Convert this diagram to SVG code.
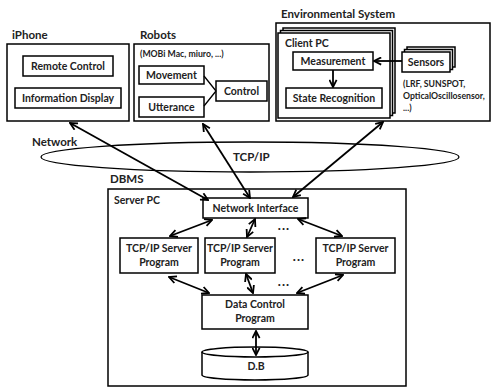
<svg xmlns="http://www.w3.org/2000/svg" width="492" height="389" viewBox="0 0 492 389">
<defs>
<marker id="ah" viewBox="0 0 10 10" refX="9" refY="5" markerWidth="9" markerHeight="9" markerUnits="userSpaceOnUse" orient="auto-start-reverse">
<path d="M1,1 L9,5 L1,9" fill="none" stroke="#000" stroke-width="2"/>
</marker>
</defs>
<style>
.b{fill:#fff;stroke:#000;stroke-width:1.5}
.t{font-family:Lato,"Liberation Sans",sans-serif;font-weight:bold;font-size:10.5px;fill:#222}
.l{font-family:Lato,"Liberation Sans",sans-serif;font-weight:bold;font-size:11.5px;fill:#222}
.s{font-family:Lato,"Liberation Sans",sans-serif;font-weight:bold;font-size:8.7px;fill:#222}
.d{font-family:Lato,"Liberation Sans",sans-serif;font-weight:bold;font-size:13px;letter-spacing:1px;fill:#222;text-anchor:middle}
.c{text-anchor:middle}
.a{fill:none;stroke:#000;stroke-width:1.8;marker-start:url(#ah);marker-end:url(#ah)}
.a1{fill:none;stroke:#000;stroke-width:1.8;marker-end:url(#ah)}
.ln{fill:none;stroke:#000;stroke-width:1.3}
</style>
<rect width="492" height="389" fill="#fff"/>

<g id="network">
<ellipse cx="250" cy="157" rx="209" ry="15" fill="none" stroke="#000" stroke-width="1.3"/>
<text class="l" x="32" y="146">Network</text>
<text class="l" x="233" y="161" font-size="12.5">TCP/IP</text>
</g>

<g id="iphone">
<text class="l" x="12" y="39">iPhone</text>
<rect class="b" x="7" y="44" width="122" height="77"/>
<g id="remote-control"><rect class="b" x="23" y="56" width="90" height="20"/><text class="t c" x="68" y="70">Remote Control</text></g>
<g id="information-display"><rect class="b" x="15" y="88" width="106" height="20"/><text class="t c" x="68" y="102">Information Display</text></g>
</g>

<g id="robots">
<text class="l" x="140" y="39">Robots</text>
<rect class="b" x="134" y="44" width="135" height="77"/>
<text class="s" x="140" y="57">(MOBi Mac, miuro, ...)</text>
<g id="movement"><rect class="b" x="139" y="66" width="65" height="18"/><text class="t c" x="171.5" y="79">Movement</text></g>
<g id="utterance"><rect class="b" x="139" y="97" width="65" height="20"/><text class="t c" x="171.5" y="111">Utterance</text></g>
<g id="control"><rect class="b" x="216" y="81" width="51" height="20"/><text class="t c" x="241.5" y="95">Control</text></g>
<path class="ln" d="M204,76 L216,91 M204,106 L216,91"/>
</g>

<g id="environmental-system">
<text class="l" x="281" y="18">Environmental System</text>
<rect class="b" x="276" y="23" width="214" height="98"/>
<g id="client-pc">
<rect class="b" x="283" y="28" width="112" height="85"/>
<rect class="b" x="280.5" y="30.5" width="112" height="85"/>
<rect class="b" x="278" y="33" width="112" height="85"/>
<text class="t" x="285" y="47">Client PC</text>
<g id="measurement"><rect class="b" x="293" y="52" width="80" height="18"/><text class="t c" x="333" y="65">Measurement</text></g>
<g id="state-recognition"><rect class="b" x="286" y="88" width="96" height="20"/><text class="t c" x="334" y="102">State Recognition</text></g>
</g>
<g id="sensors">
<rect class="b" x="407" y="47" width="48" height="20"/>
<rect class="b" x="404.5" y="49.5" width="48" height="20"/>
<rect class="b" x="402" y="52" width="48" height="20"/>
<text class="t c" x="426" y="66">Sensors</text>
</g>
<text class="s" x="403" y="87">(LRF, SUNSPOT,</text>
<text class="s" x="403" y="99">OpticalOscillosensor,</text>
<text class="s" x="403" y="111">...)</text>
</g>

<g id="dbms">
<text class="l" x="110" y="183">DBMS</text>
<rect class="b" x="108" y="189" width="298" height="197"/>
<text class="t" x="114" y="204">Server PC</text>
<g id="network-interface"><rect class="b" x="203" y="198" width="105" height="20"/><text class="t c" x="255.5" y="212">Network Interface</text></g>
<g id="tcp1"><rect class="b" x="120" y="238" width="78" height="35"/><text class="t c" x="159" y="252">TCP/IP Server</text><text class="t c" x="159" y="266">Program</text></g>
<g id="tcp2"><rect class="b" x="205" y="238" width="70" height="35"/><text class="t c" x="240" y="252">TCP/IP Server</text><text class="t c" x="240" y="266">Program</text></g>
<g id="tcp3"><rect class="b" x="316" y="238" width="79" height="35"/><text class="t c" x="355.5" y="252">TCP/IP Server</text><text class="t c" x="355.5" y="266">Program</text></g>
<text class="d" x="284" y="230">...</text>
<text class="d" x="299" y="261">...</text>
<text class="d" x="284" y="286">...</text>
<g id="data-control"><rect class="b" x="202" y="295" width="106" height="34"/><text class="t c" x="255" y="308">Data Control</text><text class="t c" x="255" y="322">Program</text></g>
<g id="db">
<path class="b" d="M202,352 L202,375 A53,5 0 0 0 308,375 L308,352"/>
<ellipse class="b" cx="255" cy="352" rx="53" ry="5"/>
<text class="t c" x="256" y="370">D.B</text>
</g>
</g>

<g id="connectors">
<path class="a" d="M70,123 L208,200"/>
<path class="a" d="M203,124 L250,198"/>
<path class="a" d="M383,122 L293,197"/>
<path class="a" d="M212,220 L170,236"/>
<path class="a" d="M255,219 L247,237"/>
<path class="a" d="M298,219 L342,236"/>
<path class="a" d="M169,277 L209,293"/>
<path class="a" d="M246,274 L253,293"/>
<path class="a" d="M343,275 L297,293"/>
<path class="a" d="M256,331 L256,355"/>
<path class="a1" d="M402,61 L374,61"/>
<path class="a1" d="M333,70 L333,87"/>
</g>
</svg>
